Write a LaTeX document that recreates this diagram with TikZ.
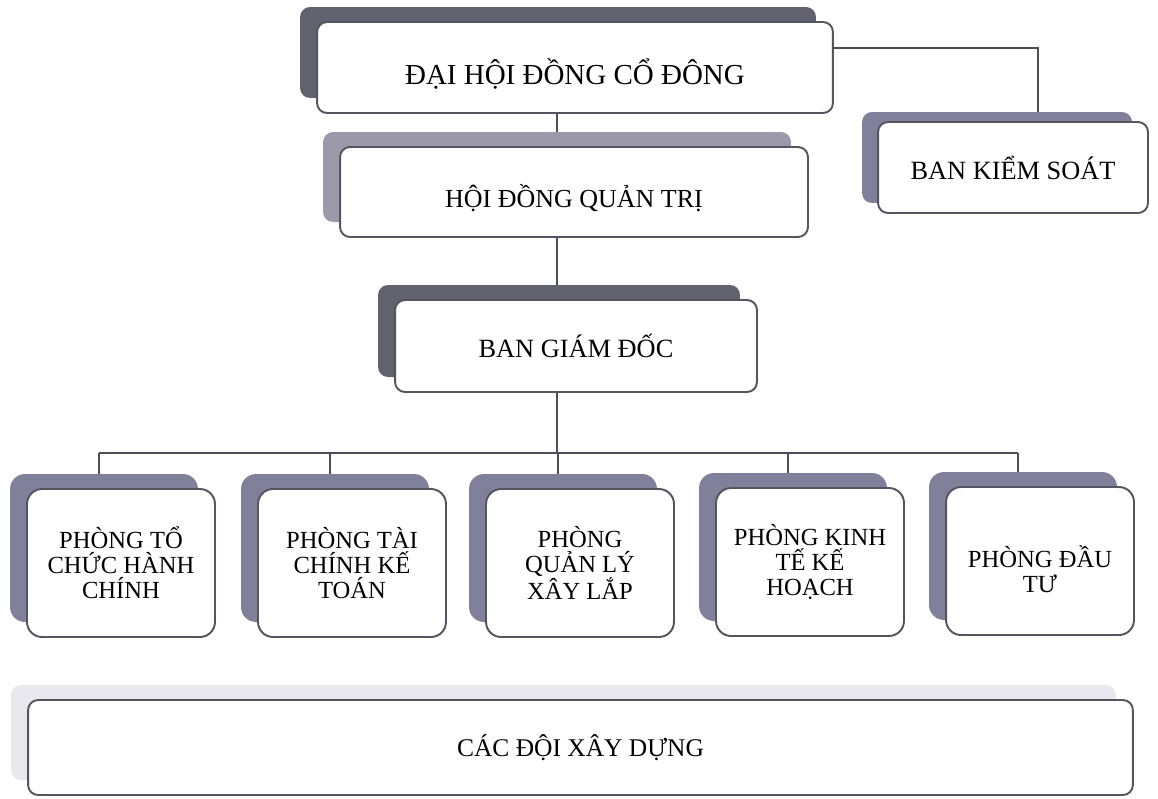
\documentclass[tikz,border=0pt]{standalone}
\usepackage{fontspec}
\setmainfont{Liberation Serif}
\usetikzlibrary{shadows, backgrounds}
\definecolor{boxline}{HTML}{55555F}
\definecolor{shadedark}{HTML}{62626E}
\definecolor{shademid}{HTML}{80809A}
\definecolor{shadelight}{HTML}{9C9AAA}
\definecolor{shadefaint}{HTML}{E8E8EE}
\definecolor{linkgray}{HTML}{4E4E58}
\newcommand{\lowered}[2]{\raisebox{-#1}[\height][\depth]{#2}}

\begin{document}
\begin{tikzpicture}[x=0.02cm, y=-0.02cm,
    unit/.style={draw=boxline, fill=white, line width=1.1pt, rounded corners=0.2cm, align=center, inner sep=0pt},
    back/.style={general shadow={shadow xshift=-0.34cm, shadow yshift=0.3cm, fill=#1, draw=none}},
    dept/.style={unit, rounded corners=0.3cm, minimum width=3.76cm, minimum height=2.96cm,
        font=\fontsize{14}{14.2}\selectfont, back=shademid},
    link/.style={draw=linkgray, line width=1.1pt}]
        \useasboundingbox (0,0) rectangle (1158,798);

        % Top levels
        \node[unit, back=shadedark, minimum width=10.32cm, minimum height=1.82cm,
            font=\fontsize{16.5}{19}\selectfont] (dhdcd) at (575,67.5) {\lowered{0.14cm}{ĐẠI HỘI ĐỒNG CỔ ĐÔNG}};
        \node[unit, back=shadelight, minimum width=9.36cm, minimum height=1.8cm,
            font=\fontsize{14.8}{17}\selectfont] (hdqt) at (574,192) {\lowered{0.12cm}{HỘI ĐỒNG QUẢN TRỊ}};
        \node[unit, general shadow={shadow xshift=-0.32cm, shadow yshift=0.2cm, fill=shademid, draw=none},
            minimum width=5.4cm, minimum height=1.82cm,
            font=\fontsize{15}{17}\selectfont] (bks) at (1013,167.5) {BAN KIỂM SOÁT};
        \node[unit, back=shadedark, minimum width=7.24cm, minimum height=1.84cm,
            font=\fontsize{15}{17}\selectfont] (bgd) at (576,346) {BAN GIÁM ĐỐC};

        % Departments
        \node[dept] (p1) at (121,563) {PHÒNG TỔ\\CHỨC HÀNH\\CHÍNH};
        \node[dept] (p2) at (352,563) {PHÒNG TÀI\\CHÍNH KẾ\\TOÁN};
        \node[dept] (p3) at (580,563) {PHÒNG\\QUẢN LÝ\\XÂY LẮP};
        \node[dept] (p4) at (810,562) {PHÒNG KINH\\TẾ KẾ\\HOẠCH};
        \node[dept] (p5) at (1040,561) {\lowered{0.16cm}{PHÒNG ĐẦU}\\\lowered{0.16cm}{TƯ}};

        % Teams
        \node[unit, back=shadefaint, minimum width=22.1cm, minimum height=1.9cm,
            font=\fontsize{14.5}{17}\selectfont] (doi) at (580.5,747.5) {CÁC ĐỘI XÂY DỰNG};

        % Connectors
        \coordinate (spine) at (557,0);
        \coordinate (bus) at (557,453);
        \begin{scope}[on background layer]
            \draw[link] ([yshift=0.39cm]dhdcd.east) -| ([xshift=0.5cm]bks.north);
            \draw[link] (dhdcd.south -| spine) -- (hdqt.north -| spine);
            \draw[link] (hdqt.south -| spine) -- (bgd.north -| spine);
            \draw[link] (bgd.south -| spine) -- (bus);
            \draw[link] ([xshift=-0.44cm]p1.north |- bus) -- ([xshift=-0.44cm]p5.north |- bus);
            \foreach \d in {p1,p2,p3,p4,p5}
                \draw[link] ([xshift=-0.44cm]\d.north |- bus) -- ([xshift=-0.44cm]\d.north);
        \end{scope}
    \end{tikzpicture}
\end{document}
